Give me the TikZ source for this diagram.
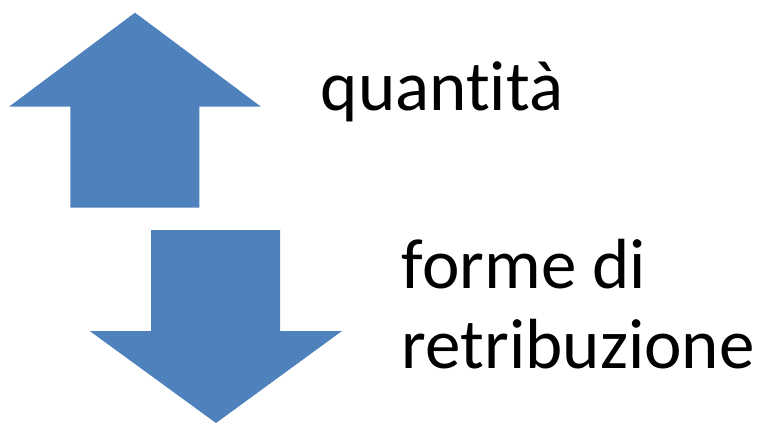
\documentclass[tikz,border=0pt]{standalone}
\usepackage{fontspec}
\setmainfont[Ligatures={NoCommon}]{Carlito}
\definecolor{arrowblue}{RGB}{79,129,189}
\begin{document}
\begin{tikzpicture}[x=1pt,y=-1pt,
  bigarrow/.style={fill=arrowblue,draw=none},
  label/.style={inner sep=0pt,anchor=base west,font=\fontsize{71}{80}\selectfont}]
\useasboundingbox (0,0) rectangle (757,423);
% up arrow
\path[bigarrow] (135,12.7) -- (261,106.7) -- (199.3,106.7) -- (199.3,207.7) -- (70.3,207.7) -- (70.3,106.7) -- (9,106.7) -- cycle;
% down arrow
\path[bigarrow] (151,230) -- (280,230) -- (280,331) -- (342,331) -- (216,423) -- (89.7,331) -- (151,331) -- cycle;
\node[label] (q) at (320.7,110.7) {quantità};
\node[label] (f) at (401.7,288.3) {forme di};
\node[label] (r) at (401.7,368.3) {retribuzione};
\end{tikzpicture}
\end{document}
